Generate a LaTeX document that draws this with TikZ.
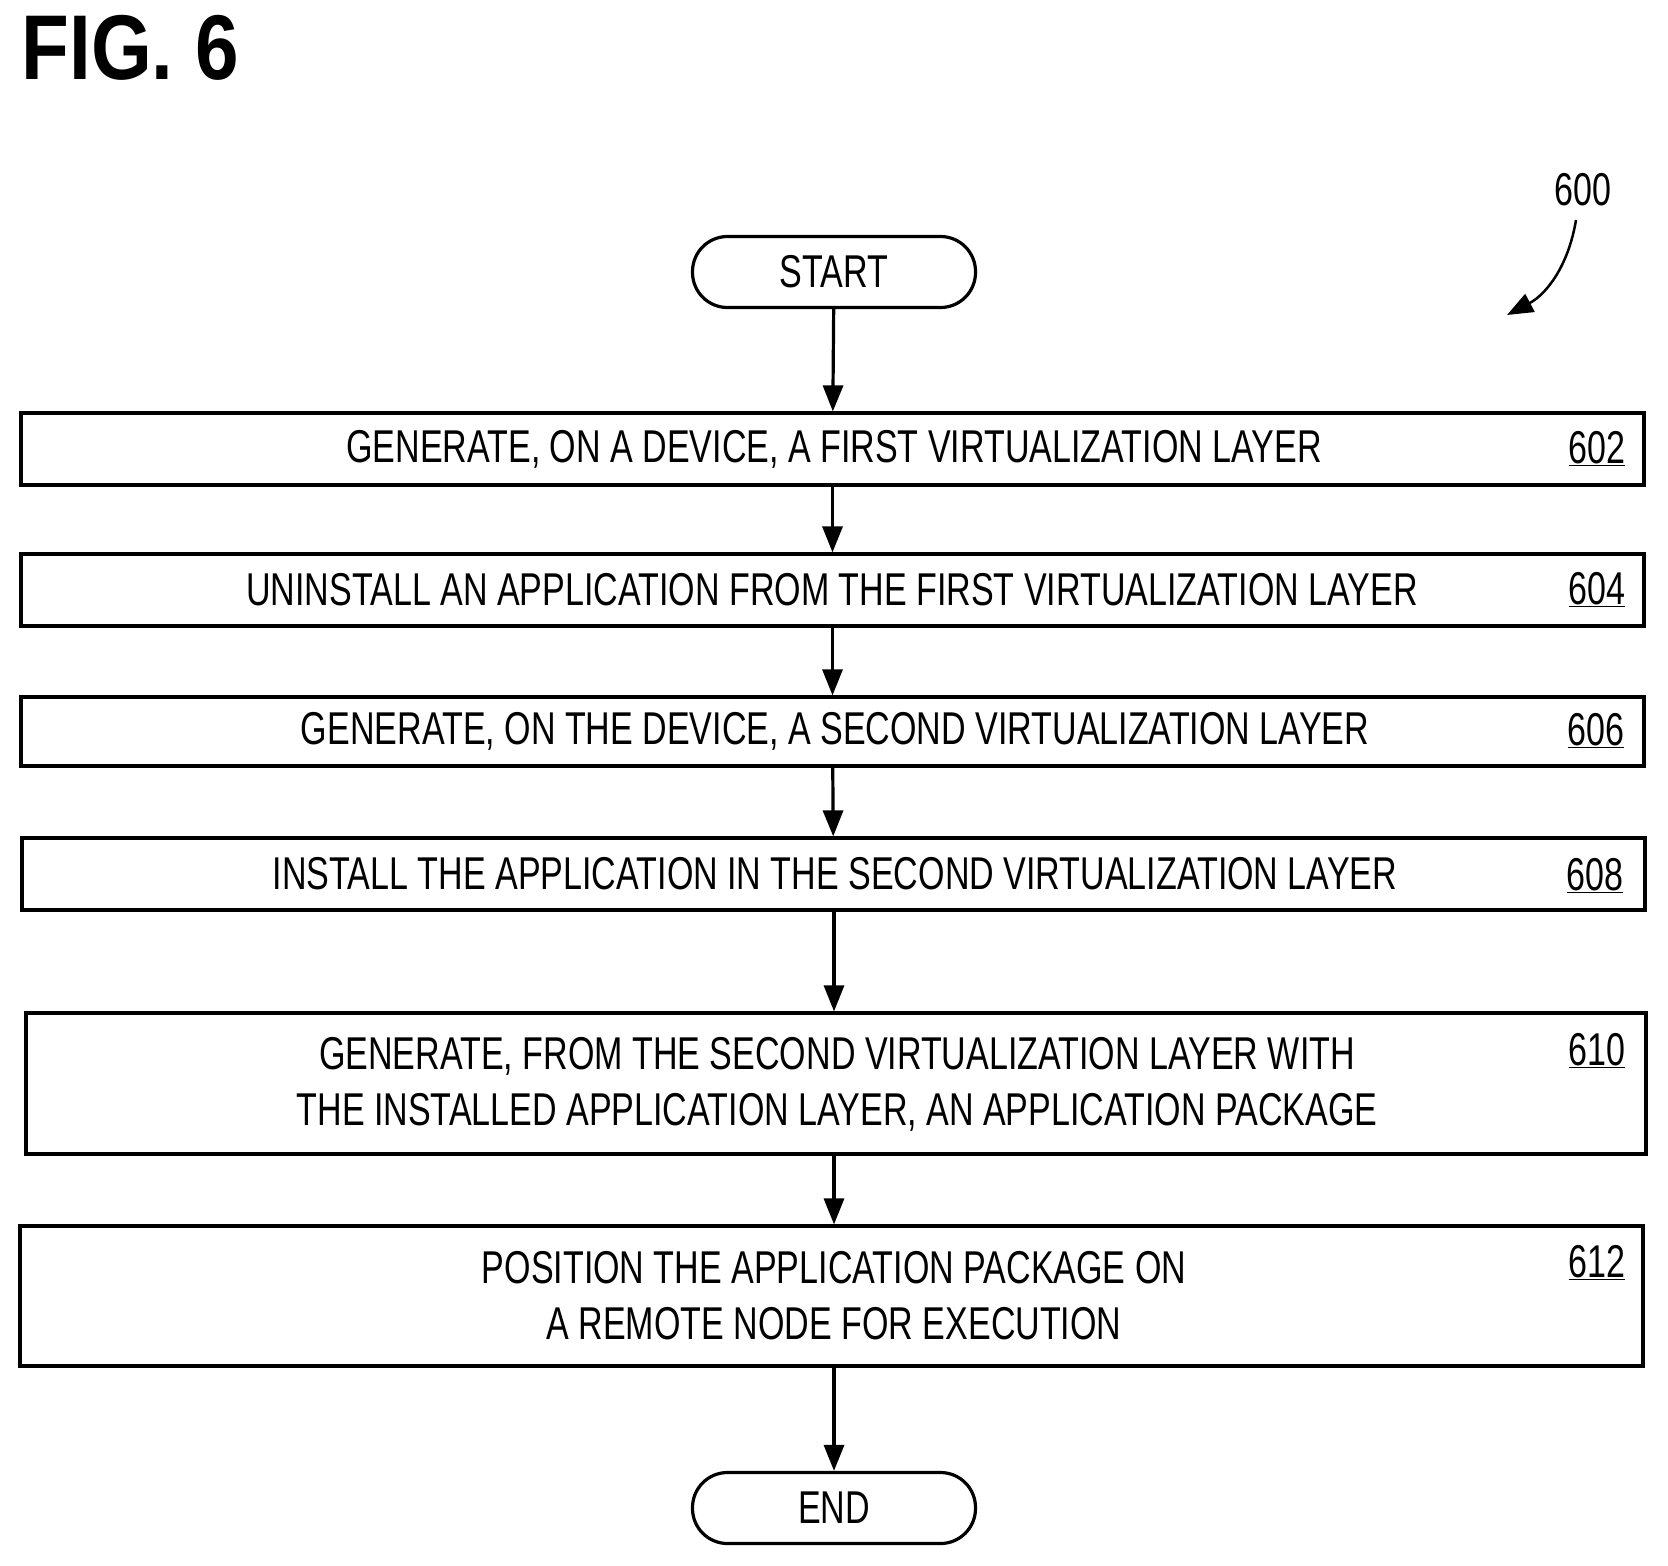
\documentclass[tikz,border=0pt]{standalone}
\usepackage{fontspec}
\setmainfont{Liberation Sans}[FakeStretch=0.74]
\newfontfamily\figfont{Liberation Sans}[FakeStretch=0.85]
\usetikzlibrary{arrows.meta}
\begin{document}
\begin{tikzpicture}[x=1pt,y=-1pt,line width=3.2pt,
  box/.style={draw,rectangle,inner sep=0pt},
  term/.style={draw,rounded corners=35pt,minimum width=283pt,minimum height=71pt,font=\fontsize{46}{50}\selectfont},
  txt/.style={font=\fontsize{46}{56}\selectfont,align=center,inner sep=0pt},
  num/.style={font=\fontsize{46}{50}\selectfont,inner sep=0pt},
  arr/.style={-{Triangle[length=26pt,width=20pt]}}]
\useasboundingbox (0,0) rectangle (1668,1566);
\node[anchor=north west,inner sep=0pt,font=\figfont\bfseries\fontsize{92}{96}\selectfont] (fig) at (20,14) {FIG. 6};
\node[num] (n600) at (1583,190) {600};
\draw[arr,line width=2.5pt] (1576,220) .. controls (1568,268) and (1545,295) .. (1507,315);
\node[term] (start) at (834,272) {START};
\node[term] (end) at (834,1508) {END};
\node[box,minimum width=1623pt,minimum height=72pt] (b602) at (832.5,449) {};
\node[box,minimum width=1623pt,minimum height=72pt] (b604) at (832.5,590) {};
\node[box,minimum width=1623pt,minimum height=69pt] (b606) at (832.5,731.5) {};
\node[box,minimum width=1623pt,minimum height=72pt] (b608) at (833.5,874) {};
\node[box,minimum width=1620pt,minimum height=141pt] (b610) at (836,1083.5) {};
\node[box,minimum width=1623pt,minimum height=140pt] (b612) at (831.5,1296) {};
\node[txt] (t602) at (834,449) {GENERATE, ON A DEVICE, A FIRST VIRTUALIZATION LAYER};
\node[txt] (t604) at (832,590) {UNINSTALL AN APPLICATION FROM THE FIRST VIRTUALIZATION LAYER};
\node[txt] (t606) at (835,731) {GENERATE, ON THE DEVICE, A SECOND VIRTUALIZATION LAYER};
\node[txt] (t608) at (835,874) {INSTALL THE APPLICATION IN THE SECOND VIRTUALIZATION LAYER};
\node[txt] (t610) at (837,1084) {GENERATE, FROM THE SECOND VIRTUALIZATION LAYER WITH\\THE INSTALLED APPLICATION LAYER, AN APPLICATION PACKAGE};
\node[txt] (t612) at (834,1296) {POSITION THE APPLICATION PACKAGE ON\\A REMOTE NODE FOR EXECUTION};
\node[num] (l602) at (1597,449) {\underline{602}};
\node[num] (l604) at (1597,590) {\underline{604}};
\node[num] (l606) at (1596,731) {\underline{606}};
\node[num] (l608) at (1595,876) {\underline{608}};
\node[num] (l610) at (1597,1051) {\underline{610}};
\node[num] (l612) at (1597,1263) {\underline{612}};
\draw[arr] (start) -- (b602);
\draw[arr] (b602) -- (b604);
\draw[arr] (b604) -- (b606);
\draw[arr] (b606) -- (b608);
\draw[arr] (b608.south -| start) -- (b610.north -| start);
\draw[arr] (b610.south -| start) -- (b612.north -| start);
\draw[arr] (b612.south -| start) -- (end);
\end{tikzpicture}
\end{document}
